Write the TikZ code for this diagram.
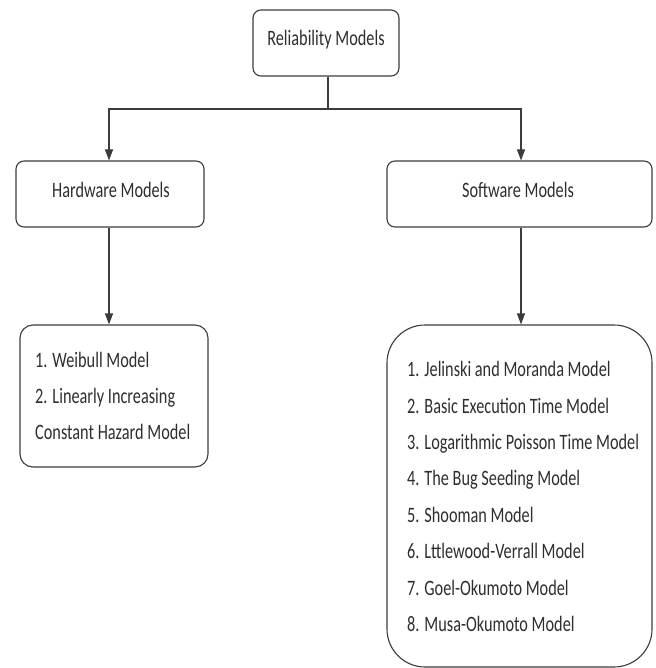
\documentclass[tikz,border=0pt]{standalone}
\usepackage{fontspec}
\newfontfamily\diagfont[FakeStretch=0.74]{Carlito}
\usetikzlibrary{arrows.meta}
\definecolor{linegray}{HTML}{3C3C3C}
\definecolor{textgray}{HTML}{2E2E2E}
\begin{document}
\begin{tikzpicture}[x=1pt,y=-1pt,
  box/.style={draw=linegray, line width=1.1pt, rounded corners=#1, inner sep=0pt},
  box/.default=8pt,
  label/.style={text=textgray, font={\diagfont\fontsize{22}{36.4}\selectfont}, inner sep=0pt},
  listtext/.style={label, align=left, anchor=west},
  conn/.style={draw=linegray, line width=1.1pt},
  arr/.style={conn, -{Triangle[length=11pt,width=8pt]}}
]
\useasboundingbox (0,0) rectangle (655,668);

% boxes
\node[box, minimum width=146pt, minimum height=66pt] (root) at (326,43) {};
\node[label] (rootlbl) at (326,40) {Reliability Models};

\node[box, minimum width=188pt, minimum height=66pt] (hw) at (110,194) {};
\node[label] (hwlbl) at (111,190) {Hardware Models};

\node[box, minimum width=265pt, minimum height=66pt] (sw) at (519.5,194) {};
\node[label] (swlbl) at (518,190) {Software Models};

\node[box=13pt, minimum width=188pt, minimum height=142pt] (hwlist) at (114,396) {};
\node[listtext] (hwtext) at (35,396) {1. Weibull Model\\2. Linearly Increasing\\Constant Hazard Model};

\node[box=38pt, minimum width=265pt, minimum height=342pt] (swlist) at (519.5,496) {};
\node[listtext] (swtext) at (407,496.5) {1. Jelinski and Moranda Model\\2. Basic Execution Time Model\\3. Logarithmic Poisson Time Model\\4. The Bug Seeding Model\\5. Shooman Model\\6. Lttlewood-Verrall Model\\7. Goel-Okumoto Model\\8. Musa-Okumoto Model};

% connectors
\coordinate (split) at (328,109);
\draw[conn] (root.south -| split) -- (split);
\draw[arr] (split) -| (hw.north -| 109,0);
\draw[arr] (split) -| (sw.north -| 521,0);
\draw[arr] (hw.south -| 109,0) -- (hwlist.north -| 109,0);
\draw[arr] (sw.south -| 521,0) -- (swlist.north -| 521,0);
\end{tikzpicture}
\end{document}
